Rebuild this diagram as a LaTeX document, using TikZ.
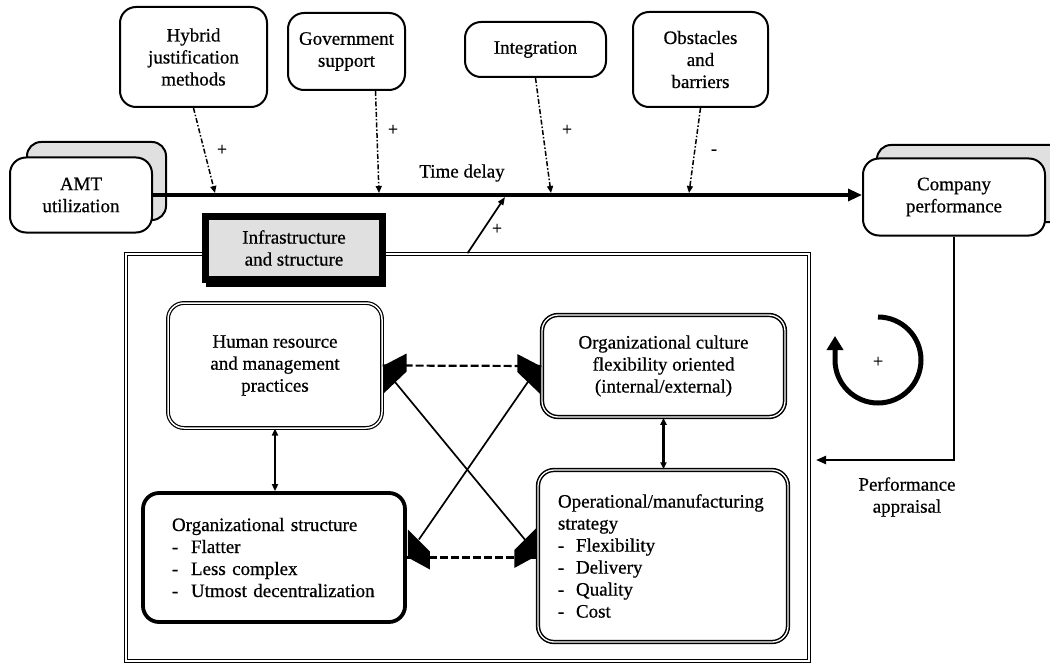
\documentclass[tikz,border=0pt]{standalone}
\usepackage{fontspec}
\setmainfont{Liberation Serif}[FakeBold=0.6]
\usetikzlibrary{arrows.meta,calc}
\definecolor{shade}{HTML}{E0E0E0}
\begin{document}
\begin{tikzpicture}[x=1pt,y=-1pt,
  txt/.style={font=\fontsize{19pt}{22pt}\selectfont},
  factor/.style={draw,line width=2pt,rounded corners=16pt,fill=white,align=center,inner sep=0pt,txt},
  shadowbox/.style={draw,line width=2pt,rounded corners=14pt,fill=shade,inner sep=0pt},
  dblbox/.style={draw,double,line width=1.2pt,double distance=1.5pt,rounded corners=16pt,fill=white,inner sep=0pt,txt},
  heavydbl/.style={draw,double,line width=1.5pt,double distance=1.3pt,rounded corners=16pt,fill=white,inner sep=0pt,txt},
  thickbox/.style={draw,line width=3.8pt,rounded corners=16pt,fill=white,inner sep=0pt,txt},
  infl/.style={line width=1.5pt,dash pattern=on 5pt off 2pt on 1.5pt off 2pt,-{Triangle[length=7pt,width=6pt]}},
  sign/.style={font=\fontsize{18pt}{18pt}\selectfont,inner sep=0pt},
  link/.style={line width=2.2pt,{Triangle[length=7pt,width=6pt]}-{Triangle[length=7pt,width=6pt]}},
  diag/.style={line width=1.7pt},
  dlink/.style={line width=2.2pt,dash pattern=on 8pt off 3pt},
]
\clip (0,0) rectangle (1050,666);
\useasboundingbox (0,0) rectangle (1050,666);

% factor boxes
\node[factor,minimum width=147pt,minimum height=100pt] (hyb) at (193.5,57) {Hybrid\\justification\\methods};
\node[factor,minimum width=117pt,minimum height=77pt] (gov) at (346.5,51.5) {Government\\support};
\node[factor,minimum width=141pt,minimum height=55pt] (int) at (535.5,49.5) {Integration};
\node[factor,minimum width=135pt,minimum height=95pt] (obs) at (700.5,59.5) {Obstacles\\and\\barriers};

% AMT and company
\node[shadowbox,minimum width=139pt,minimum height=78pt] (amtshadow) at (96.5,181) {};
\node[factor,minimum width=142pt,minimum height=75pt] (amt) at (81,195) {AMT\\utilization};
\node[shadowbox,minimum width=200pt,minimum height=77pt] (compshadow) at (977,183.5) {};
\node[factor,minimum width=182pt,minimum height=77pt] (comp) at (954,197) {Company\\performance};

\draw[line width=3.2pt,-{Triangle[length=14pt,width=12pt]}] (amt.east) -- (amt.east -| comp.west);
\node[txt,inner sep=0pt] (tdlabel) at (462,173) {Time delay};

\coordinate (h1) at (215,193);
\coordinate (g1) at (379,193);
\coordinate (i1) at (551,193);
\coordinate (o1) at (689,193);
\draw[infl] (hyb.south) -- (h1);
\draw[infl] ([xshift=29pt]gov.south) -- (g1);
\draw[infl] (int.south) -- (i1);
\draw[infl] (obs.south) -- (o1);
\node[sign] (s1) at (222,150) {+};
\node[sign] (s2) at (393,130) {+};
\node[sign] (s3) at (567,130) {+};
\node[sign] (s4) at (714,152) {-};

% frame
\node[draw,double,line width=1.5pt,double distance=1.8pt,minimum width=683pt,minimum height=407pt,inner sep=0pt] (frame) at (467.5,457.5) {};
\coordinate (tdend) at (505,197);
\draw[line width=1.7pt,-{Triangle[length=8pt,width=6pt]}] (frame.north) -- (tdend);
\node[sign] (s5) at (497,229) {+};

% infrastructure box
\fill (206,222) rectangle (386,287);
\node[draw,line width=7pt,fill=shade,minimum width=177pt,minimum height=63pt,align=center,txt,inner sep=0pt] (infra) at (294,248) {Infrastructure\\and structure};

% inner boxes
\node[dblbox,minimum width=214pt,minimum height=125pt,align=center] (hr) at (275,365.5) {Human resource\\and management\\practices};
\node[heavydbl,minimum width=243pt,minimum height=102pt,align=center] (cul) at (663.5,366) {Organizational culture\\flexibility oriented\\(internal/external)};
\node[thickbox,minimum width=262pt,minimum height=129pt,align=left,text width=204pt] (os) at (274,557.5)
 {Organizational structure\\\makebox[19pt][l]{-}Flatter\\\makebox[19pt][l]{-}Less complex\\\makebox[19pt][l]{-}Utmost decentralization};
\node[heavydbl,minimum width=250pt,minimum height=172pt,align=left,text width=210pt] (op) at (663,556)
 {Operational/manufacturing\\strategy\\\makebox[18pt][l]{-}Flexibility\\\makebox[18pt][l]{-}Delivery\\\makebox[18pt][l]{-}Quality\\\makebox[18pt][l]{-}Cost};

\draw[link] (hr.south) -- (hr.south |- os.north);
\draw[link] (cul.south) -- (cul.south |- op.north);
\draw[dlink] (hr.east) -- (cul.west);
\draw[dlink] (os.east) -- (os.east -| op.west);
\draw[diag] ($(hr.east)+(12,16)$) -- ($(op.west)+(-12,-16)$);
\draw[diag] ($(cul.west)+(-12,14)$) -- ($(os.east)+(12,-18)$);

% wedges
\fill ($(hr.east)+(1,0)$) -- ($(hr.east)+(24,-12)$) -- ($(hr.east)+(24,6)$) -- ($(hr.east)+(1,28)$) -- cycle;
\fill ($(cul.west)+(-1,0)$) -- ($(cul.west)+(-24,-12)$) -- ($(cul.west)+(-24,6)$) -- ($(cul.west)+(-1,28)$) -- cycle;
\fill ($(os.east)+(1,-28)$) -- ($(os.east)+(23,-6)$) -- ($(os.east)+(23,12)$) -- ($(os.east)+(1,0)$) -- cycle;
\fill ($(op.west)+(-1,-28)$) -- ($(op.west)+(-23,-6)$) -- ($(op.west)+(-23,12)$) -- ($(op.west)+(-1,0)$) -- cycle;

% feedback loop
\draw[line width=5pt,-{Triangle[length=14pt,width=16pt]}] (878,317) arc[start angle=-90,end angle=180,radius=43] -- ++(0,-24);
\node[sign] (s6) at (878,362) {+};
\coordinate (pa) at (816,460);
\draw[line width=2.2pt,-{Triangle[length=10pt,width=8pt]}] (comp.south) |- (pa);
\node[txt,align=center,inner sep=0pt] (palabel) at (907,497) {Performance\\appraisal};
\end{tikzpicture}
\end{document}
